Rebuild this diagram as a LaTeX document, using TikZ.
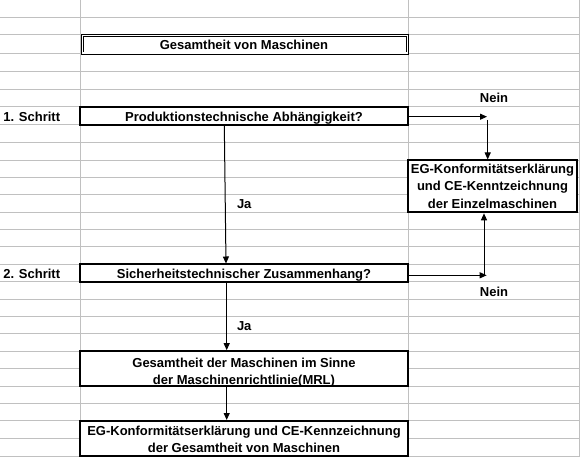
\documentclass[tikz,border=0pt]{standalone}
\usepackage{fontspec}
\setmainfont{Liberation Sans}
\usetikzlibrary{arrows.meta}
\definecolor{gridc}{RGB}{192,192,192}
\newcommand{\mlines}[1]{\begin{tabular}[t]{@{}c@{}}#1\end{tabular}}
\begin{document}
\begin{tikzpicture}[x=1pt,y=-1pt,
  box/.style={draw=black, line width=2pt, fill=white, inner sep=0pt, outer sep=0pt},
  dbox/.style={draw=black, double=white, double distance=1.6pt, line width=0.9pt, fill=white, inner sep=0pt, outer sep=0pt},
  txt/.style={font=\fontsize{13}{17.4}\selectfont\bfseries, inner sep=0pt, outer sep=0pt, anchor=base},
  ltxt/.style={txt, anchor=base west},
  con/.style={line width=1pt, -{Triangle[length=7pt,width=6pt]}, shorten >=0.8pt},
  gridline/.style={gridc, line width=1pt}]
\useasboundingbox (0,0) rectangle (581,457);
\fill[white] (0,0) rectangle (581,457);
% spreadsheet grid
\foreach \y in {17.3,35,53.5,72,89.5,107,125,142.7,160.3,177.6,195,212.5,229.8,247,264.3,281.7,299.2,316.3,333.5,351,368.4,386,403.3,420.8,438.3,456}
  \draw[gridline] (0,\y) -- (579,\y);
\foreach \x in {80,408,579}
  \draw[gridline] (\x,0) -- (\x,457);
% boxes
\node[dbox, minimum width=325pt, minimum height=17.6pt] (b0) at (244.8,44.5) {};
\node[box, minimum width=328pt, minimum height=18pt] (b1) at (244,116) {};
\node[box, minimum width=169pt, minimum height=52.2pt] (b2) at (492.5,186.4) {};
\node[box, minimum width=328pt, minimum height=17.4pt] (b3) at (244,273) {};
\node[box, minimum width=328pt, minimum height=35pt] (b4) at (244,368.5) {};
\node[box, minimum width=328pt, minimum height=35.2pt] (b5) at (244,438.4) {};
% texts
\node[txt] (t0) at (244,49.9) {Gesamtheit von Maschinen};
\node[ltxt] (s1) at (3.3,121.7) {1. Schritt};
\node[txt] (t1) at (244,121.7) {Produktionstechnische Abhängigkeit?};
\node[txt] (nein1) at (494,103) {Nein};
\node[txt] (t2) at (492.5,173.3) {\mlines{EG-Konformitätserklärung\\und CE-Kenntzeichnung\\der Einzelmaschinen}};
\node[ltxt] (ja1) at (237,208.3) {Ja};
\node[ltxt] (s2) at (3.3,278.7) {2. Schritt};
\node[txt] (t3) at (244,278.7) {Sicherheitstechnischer Zusammenhang?};
\node[txt] (nein2) at (494,296) {Nein};
\node[ltxt] (ja2) at (237,330) {Ja};
\node[txt] (t4) at (244,367) {\mlines{Gesamtheit der Maschinen im Sinne\\der Maschinenrichtlinie(MRL)}};
\node[txt] (t5) at (244,435.3) {\mlines{EG-Konformitätserklärung und CE-Kennzeichnung\\der Gesamtheit von Maschinen}};
% connector helper coordinates
\coordinate (xa) at (224.3,0);
\coordinate (xa2) at (226,0);
\coordinate (xb) at (226.7,0);
\coordinate (n1) at (487,116.7);
\coordinate (n1d) at (487.7,120);
\coordinate (n2) at (486.7,275.3);
\coordinate (n2u) at (484,275.3);
% connectors
\draw[con] (b1.south -| xa) -- (b3.north -| xa2);
\draw[con] (b3.south -| xb) -- (b4.north -| xb);
\draw[con] (b4.south -| xb) -- (b5.north -| xb);
\draw[con, shorten >=0pt] (b1.east |- n1) -- (n1);
\draw[con] (n1d) -- (b2.north -| n1d);
\draw[con, shorten >=0pt] (b3.east |- n2) -- (n2);
\draw[con] (n2u) -- (b2.south -| n2u);
\end{tikzpicture}
\end{document}
